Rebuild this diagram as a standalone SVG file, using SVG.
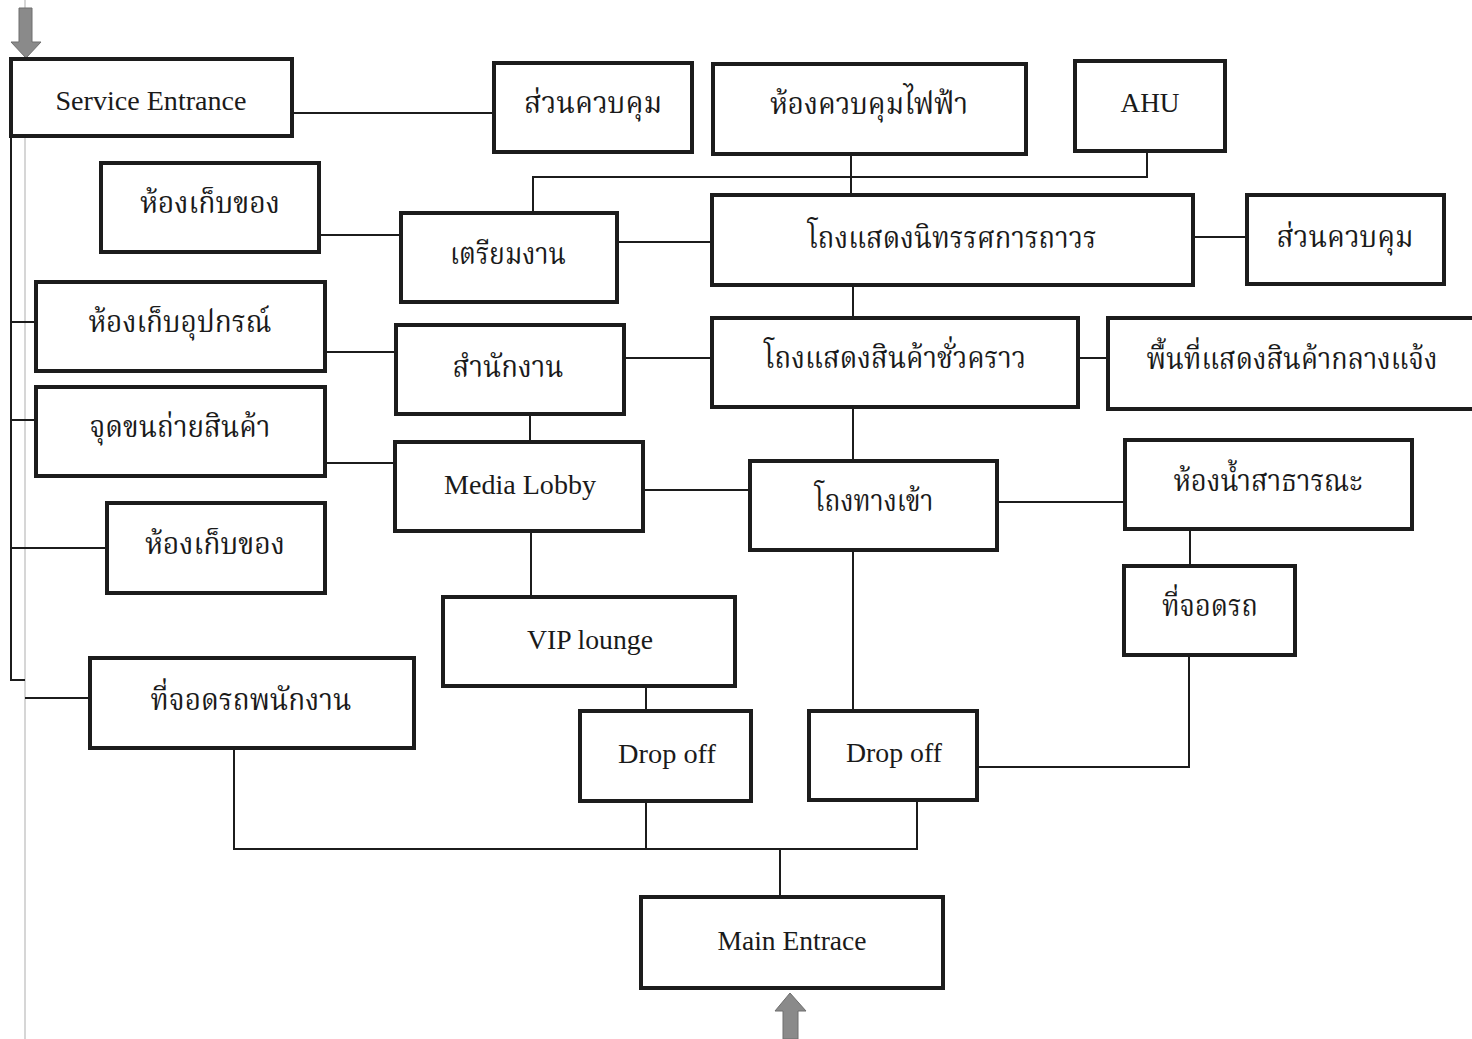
<svg xmlns="http://www.w3.org/2000/svg" width="1472" height="1039" viewBox="0 0 1472 1039">
  <defs>
    <style>
      .box { fill: #ffffff; stroke: #1c1c1c; stroke-width: 4; }
      .wire { fill: none; stroke: #1c1c1c; stroke-width: 2; }
      .en { font-family: "Liberation Serif", "Times New Roman", serif; font-size: 27px; fill: #1a1a1a; text-anchor: middle; }
      .th { font-family: "Liberation Serif", "Noto Serif Thai", "Noto Sans Thai", "Loma", "Garuda", sans-serif; font-size: 30px; fill: #1a1a1a; text-anchor: middle; }
      .flow { fill: #8a8a8a; stroke: #6e6e6e; stroke-width: 1; }
    </style>
  </defs>

  <rect width="1472" height="1039" fill="#ffffff"/>
  <!-- faint page edge -->
  <line x1="25" y1="0" x2="25" y2="1039" stroke="#c8c8c8" stroke-width="1.5"/>

  <!-- connectors -->
  <g id="connectors">
    <!-- service spine on the left -->
    <polyline class="wire" points="11,59 11,680 25,680"/>
    <line class="wire" x1="11" y1="322" x2="36" y2="322"/>
    <line class="wire" x1="11" y1="420" x2="36" y2="420"/>
    <line class="wire" x1="11" y1="548" x2="107" y2="548"/>
    <line class="wire" x1="25" y1="698" x2="90" y2="698"/>

    <line class="wire" x1="292" y1="113" x2="494" y2="113"/>
    <line class="wire" x1="851" y1="154" x2="851" y2="195"/>
    <polyline class="wire" points="533,213 533,177 1147,177 1147,151"/>
    <line class="wire" x1="319" y1="235" x2="401" y2="235"/>
    <line class="wire" x1="617" y1="242" x2="712" y2="242"/>
    <line class="wire" x1="1193" y1="237" x2="1247" y2="237"/>
    <line class="wire" x1="853" y1="285" x2="853" y2="318"/>
    <line class="wire" x1="325" y1="352" x2="396" y2="352"/>
    <line class="wire" x1="624" y1="358" x2="712" y2="358"/>
    <line class="wire" x1="1078" y1="358" x2="1108" y2="358"/>
    <line class="wire" x1="530" y1="414" x2="530" y2="442"/>
    <line class="wire" x1="325" y1="463" x2="395" y2="463"/>
    <line class="wire" x1="643" y1="490" x2="750" y2="490"/>
    <line class="wire" x1="853" y1="407" x2="853" y2="461"/>
    <line class="wire" x1="997" y1="502" x2="1125" y2="502"/>
    <line class="wire" x1="1190" y1="529" x2="1190" y2="566"/>
    <line class="wire" x1="531" y1="531" x2="531" y2="597"/>
    <line class="wire" x1="646" y1="686" x2="646" y2="711"/>
    <line class="wire" x1="853" y1="550" x2="853" y2="711"/>
    <polyline class="wire" points="1189,655 1189,767 977,767"/>
    <polyline class="wire" points="234,748 234,849 917,849 917,800"/>
    <line class="wire" x1="646" y1="801" x2="646" y2="849"/>
    <line class="wire" x1="780" y1="849" x2="780" y2="897"/>
  </g>

  <!-- entry arrows -->
  <g id="service-arrow">
    <polygon class="flow" points="19,8 32,8 32,42 41,42 26,58 11,42 19,42"/>
  </g>
  <g id="main-arrow">
    <polygon class="flow" points="783,1039 798,1039 798,1011 806,1011 790,993 775,1011 783,1011"/>
  </g>

  <!-- nodes -->
  <g id="service-entrance">
    <rect class="box" x="11" y="59" width="281" height="77"/>
    <text class="en" x="151" y="110" textLength="191" lengthAdjust="spacingAndGlyphs">Service Entrance</text>
  </g>
  <g id="control-1">
    <rect class="box" x="494" y="63" width="198" height="89"/>
    <text class="th" x="593" y="113" textLength="138" lengthAdjust="spacingAndGlyphs">ส่วนควบคุม</text>
  </g>
  <g id="electrical-room">
    <rect class="box" x="713" y="64" width="313" height="90"/>
    <text class="th" x="869" y="114" textLength="198" lengthAdjust="spacingAndGlyphs">ห้องควบคุมไฟฟ้า</text>
  </g>
  <g id="ahu">
    <rect class="box" x="1075" y="61" width="150" height="90"/>
    <text class="en" x="1150" y="112" textLength="59" lengthAdjust="spacingAndGlyphs">AHU</text>
  </g>
  <g id="storage-1">
    <rect class="box" x="101" y="163" width="218" height="89"/>
    <text class="th" x="210" y="213" textLength="140" lengthAdjust="spacingAndGlyphs">ห้องเก็บของ</text>
  </g>
  <g id="preparation">
    <rect class="box" x="401" y="213" width="216" height="89"/>
    <text class="th" x="508" y="264" textLength="116" lengthAdjust="spacingAndGlyphs">เตรียมงาน</text>
  </g>
  <g id="permanent-hall">
    <rect class="box" x="712" y="195" width="481" height="90"/>
    <text class="th" x="952" y="248" textLength="289" lengthAdjust="spacingAndGlyphs">โถงแสดงนิทรรศการถาวร</text>
  </g>
  <g id="control-2">
    <rect class="box" x="1247" y="195" width="197" height="89"/>
    <text class="th" x="1345" y="247" textLength="137" lengthAdjust="spacingAndGlyphs">ส่วนควบคุม</text>
  </g>
  <g id="equipment-store">
    <rect class="box" x="36" y="282" width="289" height="89"/>
    <text class="th" x="180" y="332" textLength="183" lengthAdjust="spacingAndGlyphs">ห้องเก็บอุปกรณ์</text>
  </g>
  <g id="office">
    <rect class="box" x="396" y="325" width="228" height="89"/>
    <text class="th" x="508" y="377" textLength="111" lengthAdjust="spacingAndGlyphs">สำนักงาน</text>
  </g>
  <g id="temporary-hall">
    <rect class="box" x="712" y="318" width="366" height="89"/>
    <text class="th" x="895" y="368" textLength="262" lengthAdjust="spacingAndGlyphs">โถงแสดงสินค้าชั่วคราว</text>
  </g>
  <g id="outdoor-display">
    <rect class="box" x="1108" y="318" width="370" height="91"/>
    <text class="th" x="1292" y="369" textLength="291" lengthAdjust="spacingAndGlyphs">พื้นที่แสดงสินค้ากลางแจ้ง</text>
  </g>
  <g id="loading-point">
    <rect class="box" x="36" y="387" width="289" height="89"/>
    <text class="th" x="180" y="437" textLength="181" lengthAdjust="spacingAndGlyphs">จุดขนถ่ายสินค้า</text>
  </g>
  <g id="media-lobby">
    <rect class="box" x="395" y="442" width="248" height="89"/>
    <text class="en" x="520" y="494" textLength="152" lengthAdjust="spacingAndGlyphs">Media Lobby</text>
  </g>
  <g id="entrance-hall">
    <rect class="box" x="750" y="461" width="247" height="89"/>
    <text class="th" x="874" y="511" textLength="119" lengthAdjust="spacingAndGlyphs">โถงทางเข้า</text>
  </g>
  <g id="public-toilet">
    <rect class="box" x="1125" y="440" width="287" height="89"/>
    <text class="th" x="1268" y="491" textLength="189" lengthAdjust="spacingAndGlyphs">ห้องน้ำสาธารณะ</text>
  </g>
  <g id="storage-2">
    <rect class="box" x="107" y="503" width="218" height="90"/>
    <text class="th" x="215" y="554" textLength="140" lengthAdjust="spacingAndGlyphs">ห้องเก็บของ</text>
  </g>
  <g id="vip-lounge">
    <rect class="box" x="443" y="597" width="292" height="89"/>
    <text class="en" x="590" y="649" textLength="126" lengthAdjust="spacingAndGlyphs">VIP lounge</text>
  </g>
  <g id="parking">
    <rect class="box" x="1124" y="566" width="171" height="89"/>
    <text class="th" x="1210" y="616" textLength="96" lengthAdjust="spacingAndGlyphs">ที่จอดรถ</text>
  </g>
  <g id="staff-parking">
    <rect class="box" x="90" y="658" width="324" height="90"/>
    <text class="th" x="251" y="710" textLength="201" lengthAdjust="spacingAndGlyphs">ที่จอดรถพนักงาน</text>
  </g>
  <g id="drop-off-1">
    <rect class="box" x="580" y="711" width="171" height="90"/>
    <text class="en" x="667" y="763" textLength="98" lengthAdjust="spacingAndGlyphs">Drop off</text>
  </g>
  <g id="drop-off-2">
    <rect class="box" x="809" y="711" width="168" height="89"/>
    <text class="en" x="894" y="762" textLength="96" lengthAdjust="spacingAndGlyphs">Drop off</text>
  </g>
  <g id="main-entrance">
    <rect class="box" x="641" y="897" width="302" height="91"/>
    <text class="en" x="792" y="950" textLength="149" lengthAdjust="spacingAndGlyphs">Main Entrace</text>
  </g>
</svg>
